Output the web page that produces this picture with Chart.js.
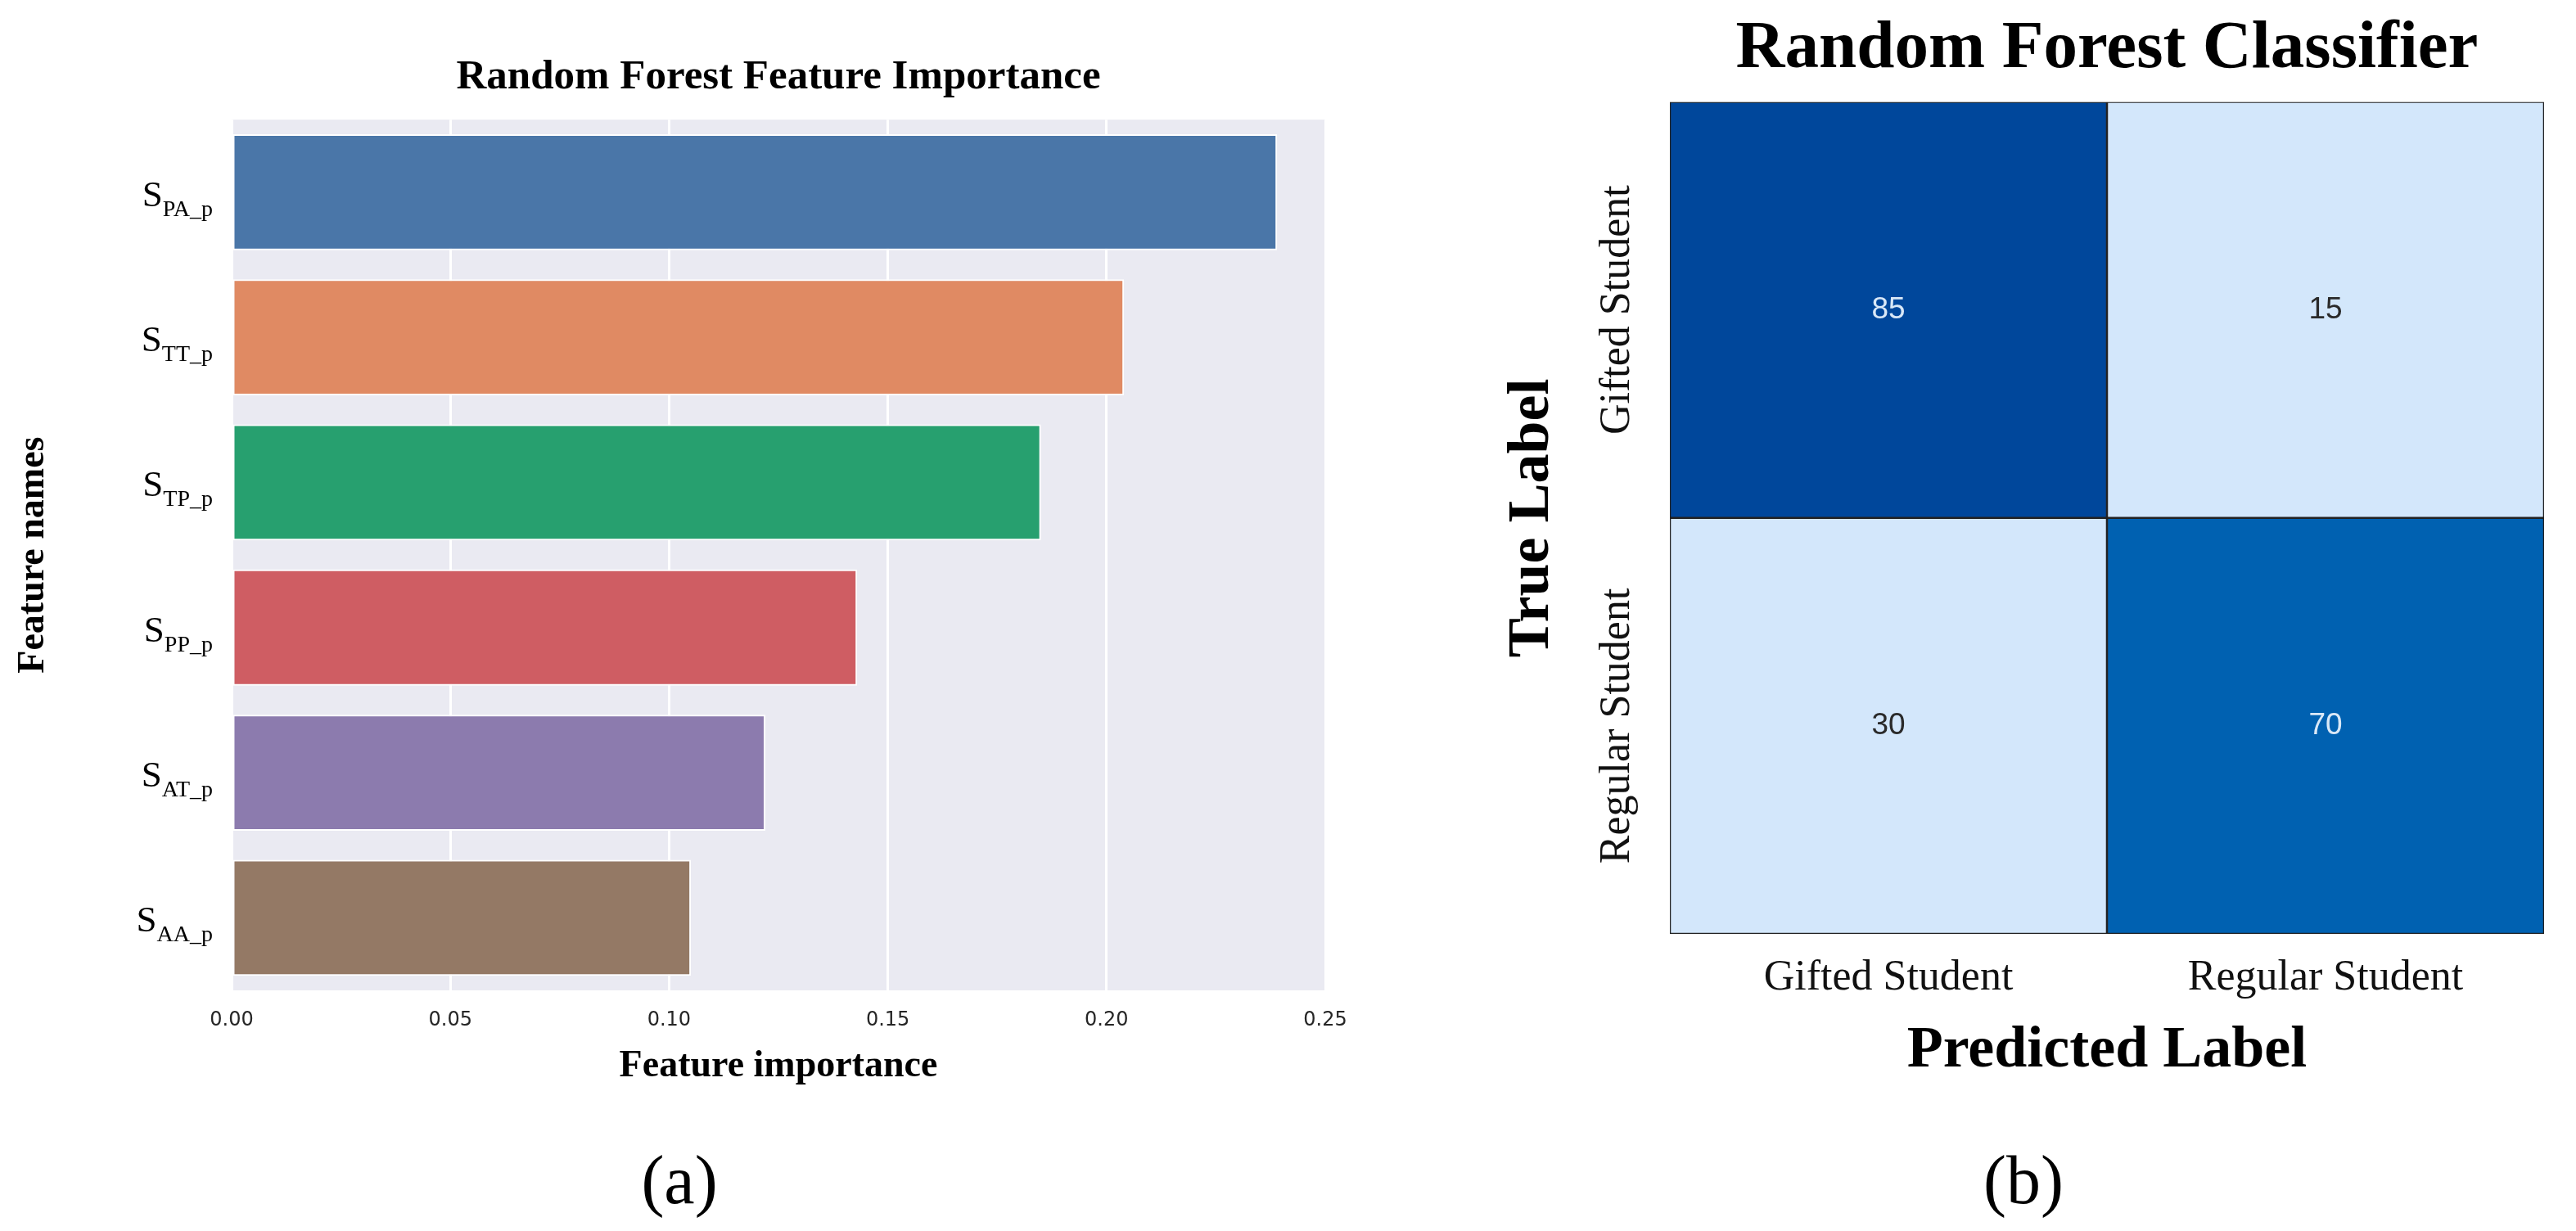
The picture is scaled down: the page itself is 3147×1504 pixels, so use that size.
<!DOCTYPE html>
<html lang="en">
<head>
<meta charset="utf-8">
<title>Random Forest – feature importance and confusion matrix</title>
<script src="https://cdn.jsdelivr.net/npm/chart.js@4.4.1/dist/chart.umd.min.js"></script>
<style>
  html, body { margin: 0; padding: 0; background: #fff; }
  body { position: relative; width: 3147px; height: 1504px; overflow: hidden; }
  #importance { position: absolute; left: 0; top: 0; }
  #confusion { position: absolute; left: 1820px; top: 0; }
  .panel-tag {
    position: absolute;
    top: 1400px;
    font: 84px "Liberation Serif", serif;
    line-height: 1;
    color: #000;
    transform: translateX(-50%);
  }
</style>
</head>
<body>
<canvas id="importance" width="1700" height="1340"></canvas>
<canvas id="confusion" width="1327" height="1340"></canvas>
<div class="panel-tag" style="left: 830px;">(a)</div>
<div class="panel-tag" style="left: 2472px;">(b)</div>

<script>
// (a) feature importance
const featureNames = ["PA_p", "TT_p", "TP_p", "PP_p", "AT_p", "AA_p"]; // subscripts of "S"
const featureImportance = [0.239, 0.204, 0.185, 0.143, 0.122, 0.105];
const importanceTicks = [0, 0.05, 0.10, 0.15, 0.20, 0.25];

// (b) confusion matrix
const predictedLabels = ["Gifted Student", "Regular Student"];
const trueLabels = ["Gifted Student", "Regular Student"];
const trueGifted = [85, 15];
const trueRegular = [30, 70];

const barColors = ["#4a76a8", "#e08a63", "#27a06f", "#cf5d63", "#8c7bae", "#947965"];
const serif = "'Liberation Serif', 'Times New Roman', serif";

document.addEventListener("DOMContentLoaded", function () {
  const confusionRows = [trueGifted, trueRegular];

  // seaborn style grey panel behind the bars
  const plotBackground = {
    id: "plotBackground",
    beforeDraw(chart) {
      const { ctx, chartArea } = chart;
      ctx.save();
      ctx.fillStyle = "#eaeaf2";
      ctx.fillRect(chartArea.left, chartArea.top, chartArea.width, chartArea.height);
      ctx.restore();
    }
  };

  // y tick labels like S with a subscript
  const subscriptLabels = {
    id: "subscriptLabels",
    afterDraw(chart) {
      const { ctx, chartArea } = chart;
      const yScale = chart.scales.y;
      const right = chartArea.left - 23;
      ctx.save();
      ctx.fillStyle = "#000";
      ctx.textAlign = "left";
      ctx.textBaseline = "alphabetic";
      featureNames.forEach(function (name, i) {
        const yc = yScale.getPixelForValue(i);
        ctx.font = "28px " + serif;
        const subWidth = ctx.measureText(name).width;
        ctx.font = "45px " + serif;
        const sWidth = ctx.measureText("S").width;
        ctx.fillText("S", right - subWidth - sWidth, yc + 17);
        ctx.font = "28px " + serif;
        ctx.fillText(name, right - subWidth, yc + 29);
      });
      ctx.restore();
    }
  };

  // counts inside the cells and the rotated row labels
  const matrixText = {
    id: "matrixText",
    afterDatasetsDraw(chart) {
      const { ctx, chartArea } = chart;
      const yScale = chart.scales.y;
      ctx.save();
      ctx.textAlign = "center";
      ctx.textBaseline = "middle";
      ctx.font = "37px 'Liberation Sans', Arial, sans-serif";
      confusionRows.forEach(function (row, i) {
        chart.getDatasetMeta(i).data.forEach(function (cell, j) {
          const p = cell.getCenterPoint();
          ctx.fillStyle = row[j] >= 50 ? "#d9e8f7" : "#2a2a2a";
          ctx.fillText(String(row[j]), p.x, p.y);
        });
      });
      ctx.font = "52px " + serif;
      ctx.fillStyle = "#111";
      trueLabels.forEach(function (label, i) {
        ctx.save();
        ctx.translate(chartArea.left - 64, yScale.getPixelForValue(i + 0.5));
        ctx.rotate(-Math.PI / 2);
        ctx.fillText(label, 0, 0);
        ctx.restore();
      });
      ctx.restore();
    }
  };

  function cellColor(v) {
    if (v >= 80) return "#00479b";
    if (v >= 50) return "#0061b1";
    return "#d3e7fb";
  }

  new Chart(document.getElementById("importance"), {
    type: "bar",
    data: {
      labels: featureNames,
      datasets: [{
        label: "Feature importance",
        data: featureImportance,
        backgroundColor: barColors,
        borderColor: "#ffffff",
        borderWidth: 2,
        borderSkipped: false,
        categoryPercentage: 0.8,
        barPercentage: 1.0
      }]
    },
    options: {
      indexAxis: "y",
      responsive: false,
      animation: false,
      layout: { padding: { left: 0, right: 81, top: 0, bottom: 0 } },
      plugins: {
        legend: { display: false },
        tooltip: { enabled: false },
        title: {
          display: true,
          fullSize: false,
          text: "Random Forest Feature Importance",
          color: "#000",
          font: { family: serif, size: 51, weight: "bold", lineHeight: 1.2 },
          padding: { top: 64, bottom: 21 }
        }
      },
      scales: {
        x: {
          min: 0,
          max: 0.25,
          afterBuildTicks: function (axis) {
            axis.ticks = importanceTicks.map(v => ({ value: v }));
          },
          afterFit: function (axis) { axis.height = 130; },
          grid: { color: "#ffffff", lineWidth: 3, drawTicks: false },
          border: { display: false },
          ticks: {
            color: "#262626",
            padding: 22,
            font: { family: "'DejaVu Sans', sans-serif", size: 24 },
            callback: v => Number(v).toFixed(2)
          },
          title: {
            display: true,
            text: "Feature importance",
            color: "#000",
            font: { family: serif, size: 46, weight: "bold", lineHeight: 1.2 },
            padding: { top: 0, bottom: 9 }
          }
        },
        y: {
          afterFit: function (axis) { axis.width = 283; },
          grid: { display: false },
          border: { display: false },
          ticks: { display: false },
          title: {
            display: true,
            text: "Feature names",
            color: "#000",
            font: { family: serif, size: 46, weight: "bold", lineHeight: 1.2 },
            padding: { top: 14, bottom: 0 }
          }
        }
      }
    },
    plugins: [plotBackground, subscriptLabels]
  });

  new Chart(document.getElementById("confusion"), {
    type: "bar",
    data: {
      labels: predictedLabels,
      datasets: confusionRows.map(function (row, i) {
        return {
          label: trueLabels[i],
          data: row.map(() => [i, i + 1]),
          backgroundColor: row.map(cellColor),
          borderColor: "#222222",
          borderWidth: 1.6,
          borderSkipped: false,
          grouped: false,
          categoryPercentage: 1,
          barPercentage: 1
        };
      })
    },
    options: {
      responsive: false,
      animation: false,
      layout: { padding: { left: 0, right: 39, top: 0, bottom: 0 } },
      plugins: {
        legend: { display: false },
        tooltip: { enabled: false },
        title: {
          display: true,
          fullSize: false,
          text: "Random Forest Classifier",
          color: "#000",
          font: { family: serif, size: 83, weight: "bold", lineHeight: 1.2 },
          padding: { top: 11, bottom: 14 }
        }
      },
      scales: {
        x: {
          afterFit: function (axis) { axis.height = 199; },
          grid: { display: false },
          border: { display: false },
          ticks: { color: "#111", padding: 15, font: { family: serif, size: 52 } },
          title: {
            display: true,
            text: "Predicted Label",
            color: "#000",
            font: { family: serif, size: 72, weight: "bold", lineHeight: 1.2 },
            padding: { top: 0, bottom: 12 }
          }
        },
        y: {
          min: 0,
          max: 2,
          reverse: true,
          afterFit: function (axis) { axis.width = 220; },
          grid: { display: false },
          border: { display: false },
          ticks: { display: false },
          title: {
            display: true,
            text: "True Label",
            color: "#000",
            font: { family: serif, size: 72, weight: "bold", lineHeight: 1.2 },
            padding: { top: 9, bottom: 0 }
          }
        }
      }
    },
    plugins: [matrixText]
  });
});
</script>
</body>
</html>
